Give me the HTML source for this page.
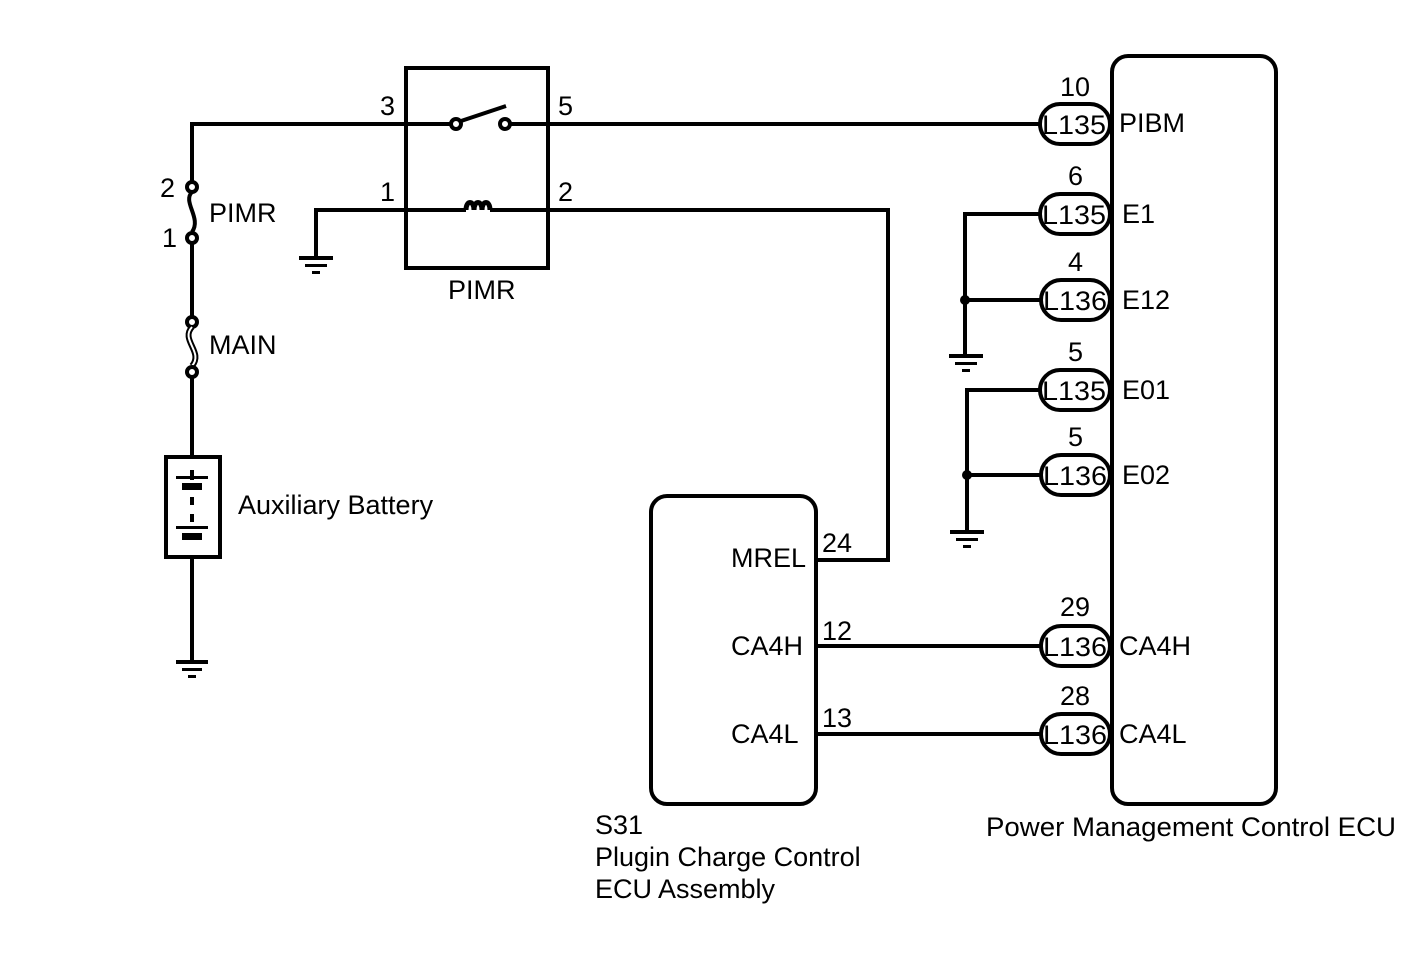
<!DOCTYPE html>
<html><head><style>body{margin:0;background:#fff}svg{display:block}text{font-family:"Liberation Sans",Arial,sans-serif;font-size:27px;fill:#000}</style></head>
<body>
<svg width="1424" height="959" viewBox="0 0 1424 959" xmlns="http://www.w3.org/2000/svg">
<g fill="none" stroke="#000" stroke-width="4">
<polyline points="406,124 192,124 192,182"/>
<circle cx="192" cy="187" r="5"/>
<path d="M192,192 C182,202 202,218 192,232"/>
<circle cx="192" cy="238" r="5"/>
<line x1="192" y1="243" x2="192" y2="317"/>
<circle cx="192" cy="322" r="5"/>
<path d="M192,327 C180,340 204,352 192,366" stroke-width="6"/>
<path d="M192,327 C180,340 204,352 192,366" stroke="#fff" stroke-width="2"/>
<circle cx="192" cy="372" r="5"/>
<line x1="192" y1="377" x2="192" y2="457"/>
<rect x="166" y="457" width="54" height="100"/>
<line x1="192" y1="470" x2="192" y2="480"/>
<line x1="192" y1="557" x2="192" y2="660"/>
<rect x="406" y="68" width="142" height="200"/>
<line x1="406" y1="124" x2="451" y2="124"/>
<circle cx="456" cy="124" r="5"/>
<line x1="461" y1="121" x2="506" y2="106"/>
<circle cx="505" cy="124" r="5"/>
<line x1="510" y1="124" x2="1040" y2="124"/>
<polyline points="316,258 316,210 466,210"/>
<path d="M466,210 C466,200 474,200 474,210 C474,200 482,200 482,210 C482,200 490,200 490,210" stroke-width="5"/>
<polyline points="490,210 888,210 888,560 816,560"/>
<rect x="651" y="496" width="165" height="308" rx="16"/>
<rect x="1112" y="56" width="164" height="748" rx="16"/>
<line x1="816" y1="646" x2="1040" y2="646"/>
<line x1="816" y1="734" x2="1040" y2="734"/>
<polyline points="1040,214 965,214 965,355"/>
<line x1="965" y1="300" x2="1040" y2="300"/>
<polyline points="1040,390 967,390 967,530"/>
<line x1="967" y1="475" x2="1040" y2="475"/>
<rect x="1040" y="104" width="70" height="40" rx="20"/>
<rect x="1040" y="194" width="70" height="40" rx="20"/>
<rect x="1041" y="280" width="69" height="40" rx="20"/>
<rect x="1040" y="370" width="70" height="40" rx="20"/>
<rect x="1041" y="455" width="69" height="40" rx="20"/>
<rect x="1041" y="626" width="69" height="40" rx="20"/>
<rect x="1041" y="714" width="69" height="40" rx="20"/>
</g>
<g fill="#000">
<rect x="176" y="476" width="32" height="3"/><rect x="182" y="483" width="20" height="7"/>
<rect x="190" y="497" width="4" height="8"/>
<rect x="176" y="526" width="32" height="3"/><rect x="182" y="533" width="20" height="7"/>
<rect x="190" y="514" width="4" height="8"/>
<rect x="176" y="660" width="32" height="4"/><rect x="182" y="668" width="20" height="3"/><rect x="188" y="675" width="8" height="3"/>
<rect x="299" y="256" width="34" height="4"/><rect x="305" y="264" width="22" height="3"/><rect x="312" y="271" width="8" height="3"/>
<rect x="949" y="354" width="34" height="4"/><rect x="955" y="362" width="22" height="3"/><rect x="962" y="369" width="8" height="3"/>
<rect x="950" y="530" width="34" height="4"/><rect x="956" y="538" width="22" height="3"/><rect x="963" y="545" width="8" height="3"/>
<circle cx="965" cy="300" r="5"/><circle cx="967" cy="475" r="5"/>
</g>
<text x="160" y="197">2</text><text x="162" y="247">1</text>
<text x="209" y="222">PIMR</text><text x="209" y="354">MAIN</text>
<text x="238" y="514">Auxiliary Battery</text>
<text x="380" y="115">3</text><text x="558" y="115">5</text>
<text x="380" y="201">1</text><text x="558" y="201">2</text>
<text x="448" y="299">PIMR</text>
<text x="1060" y="96">10</text><text x="1068" y="185">6</text><text x="1068" y="271">4</text><text x="1068" y="361">5</text><text x="1068" y="446">5</text><text x="1060" y="616">29</text><text x="1060" y="705">28</text>
<g>
<text x="1042" y="134" textLength="64" lengthAdjust="spacingAndGlyphs">L135</text><text x="1042" y="224" textLength="64" lengthAdjust="spacingAndGlyphs">L135</text><text x="1043" y="310" textLength="64" lengthAdjust="spacingAndGlyphs">L136</text><text x="1042" y="400" textLength="64" lengthAdjust="spacingAndGlyphs">L135</text><text x="1043" y="485" textLength="64" lengthAdjust="spacingAndGlyphs">L136</text><text x="1043" y="656" textLength="64" lengthAdjust="spacingAndGlyphs">L136</text><text x="1043" y="744" textLength="64" lengthAdjust="spacingAndGlyphs">L136</text>
</g>
<text x="1119" y="132">PIBM</text><text x="1122" y="223">E1</text><text x="1122" y="309">E12</text><text x="1122" y="399">E01</text><text x="1122" y="484">E02</text>
<text x="1119" y="655">CA4H</text><text x="1119" y="743">CA4L</text>
<text x="731" y="567">MREL</text><text x="731" y="655">CA4H</text><text x="731" y="743">CA4L</text>
<text x="822" y="552">24</text><text x="822" y="640">12</text><text x="822" y="727">13</text>
<text x="595" y="834">S31</text><text x="595" y="866">Plugin Charge Control</text><text x="595" y="898">ECU Assembly</text>
<text x="986" y="836" textLength="410" lengthAdjust="spacingAndGlyphs">Power Management Control ECU</text>
</svg>
</body></html>
